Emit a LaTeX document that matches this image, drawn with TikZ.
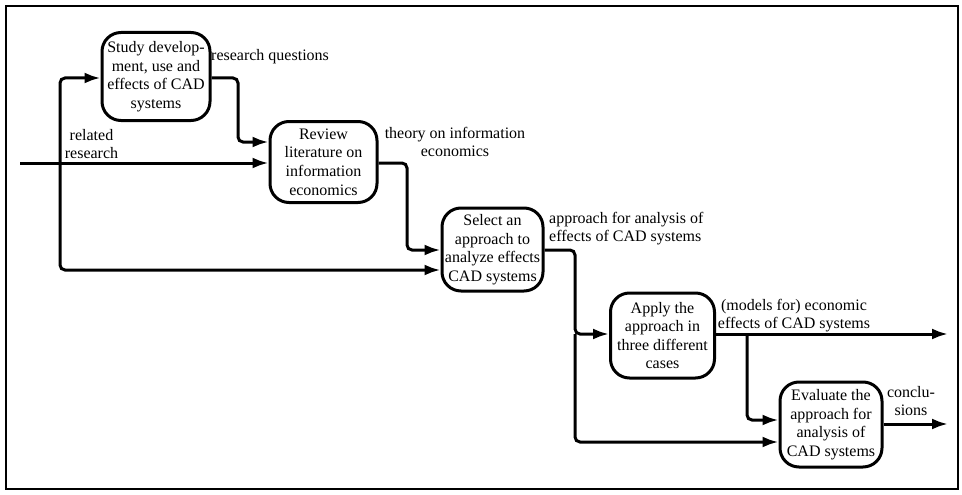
\documentclass[tikz,border=0pt]{standalone}
\usepackage{fontspec}
\setmainfont{Liberation Serif}
\usetikzlibrary{arrows.meta}
\begin{document}
\begin{tikzpicture}[x=1pt,y=-1pt,
  proc/.style={draw, line width=3pt, rounded corners=19pt, align=center,
    inner sep=0pt, font=\fontsize{16}{18.6}\selectfont},
  flow/.style={line width=3pt, rounded corners=5pt,
    -{Latex[length=16pt,width=11pt]}},
  lbl/.style={align=center, inner sep=0pt, font=\fontsize{16}{18}\selectfont}]
\useasboundingbox (0,0) rectangle (962,495);
% frame
\draw[line width=1.8pt] (6,6) rectangle (958,489);

% activities
\node[proc, minimum width=108pt, minimum height=88pt] (b1) at (156,76.5)
  {Study develop-\\ment, use and\\effects of CAD\\systems};
\node[proc, minimum width=107pt, minimum height=81pt] (b2) at (323.5,162)
  {Review\\literature on\\information\\economics};
\node[proc, minimum width=101pt, minimum height=83pt] (b3) at (492.5,249.5)
  {Select an\\approach to\\analyze effects\\CAD systems};
\node[proc, minimum width=104pt, minimum height=85pt] (b4) at (662.5,335.5)
  {Apply the\\approach in\\three different\\cases};
\node[proc, minimum width=102pt, minimum height=85pt] (b5) at (831,424.5)
  {Evaluate the\\approach for\\analysis of\\CAD systems};

% routing points
\coordinate (in) at (20,163);
\coordinate (split) at (60,163);
\coordinate (k0a) at (60,78);
\coordinate (k0b) at (60,270);
\coordinate (k1) at (238,78);
\coordinate (k1b) at (238,142);
\coordinate (k2) at (407,163);
\coordinate (k2b) at (407,250);
\coordinate (k3) at (575,250);
\coordinate (k3b) at (575,334);
\coordinate (k3c) at (575,442);
\coordinate (k4) at (747,334);
\coordinate (k4b) at (747,420);
\coordinate (out4) at (948,334);
\coordinate (out5) at (948,424);

% flows
\draw[flow] (in) -- (b2.west |- in);
\draw[flow] (split) -- (k0a) -- (b1.west |- k0a);
\draw[flow] (split) -- (k0b) -- (b3.west |- k0b);
\draw[flow] (b1.east |- k1) -- (k1) -- (k1b) -- (b2.west |- k1b);
\draw[flow] (b2.east |- k2) -- (k2) -- (k2b) -- (b3.west |- k2b);
\draw[flow] (b3.east |- k3) -- (k3) -- (k3b) -- (b4.west |- k3b);
\draw[flow] (k3b) -- (k3c) -- (b5.west |- k3c);
\draw[flow] (b4.east |- k4) -- (out4);
\draw[flow] (k4) -- (k4b) -- (b5.west |- k4b);
\draw[flow] (b5.east |- out5) -- (out5);

% flow labels
\node[lbl, anchor=west] (l1) at (211,57) {research questions};
\node[lbl] (l2) at (91.5,144) {related\\research};
\node[lbl] (l3) at (455,142) {theory on information\\economics};
\node[lbl, align=left, anchor=west] (l4) at (549,229) {approach for analysis of\\effects of CAD systems};
\node[lbl] (l5) at (794,316) {(models for) economic\\effects of CAD systems};
\node[lbl] (l6) at (911,401) {conclu-\\sions};
\end{tikzpicture}
\end{document}
